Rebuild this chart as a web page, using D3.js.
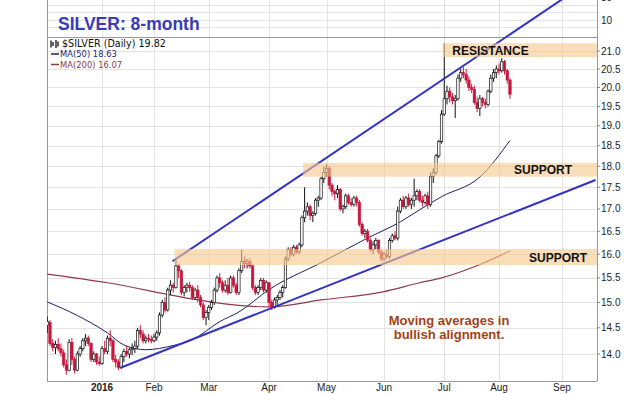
<!DOCTYPE html>
<html>
<head>
<meta charset="utf-8">
<script src="https://cdn.jsdelivr.net/npm/d3@7"></script>
<style>
  body { margin: 0; background: #fff; }
  svg { display: block; }
</style>
</head>
<body>
<div id="chart"></div>
<script>
// ---- data ----
const calStart = '2015-12-01';
const calEnd = '2016-09-30';
const holidays = ['2015-12-25', '2016-01-01', '2016-01-18', '2016-02-15', '2016-03-25', '2016-05-30', '2016-07-04', '2016-09-05'];

// daily candles, one row per trading day starting at firstBar: [open, high, low, close]
const firstBar = '2015-12-03';
const ohlc = [
  // Dec 2015
  [14.55,14.72,14.40,14.62],[14.60,14.65,14.15,14.20],[14.20,14.28,14.05,14.12],[14.12,14.25,14.00,14.18],
  [14.18,14.30,14.05,14.10],[14.10,14.20,13.95,14.02],[14.02,14.08,13.75,13.80],[13.80,13.90,13.62,13.70],
  [13.70,14.28,13.68,14.22],[14.22,14.30,13.80,13.90],[13.90,13.95,13.64,13.70],[13.70,14.05,13.68,14.00],
  [14.00,14.15,13.95,14.10],[14.10,14.30,14.05,14.25],[14.25,14.38,14.15,14.30],[14.30,14.35,14.15,14.20],
  [14.20,14.22,13.85,13.90],[13.90,14.05,13.85,14.00],[14.00,14.02,13.80,13.85],[13.85,13.95,13.78,13.82],
  // Jan 2016
  [13.82,14.15,13.80,14.10],[14.10,14.25,14.00,14.05],[14.05,14.35,14.00,14.30],[14.30,14.45,14.15,14.25],
  [14.25,14.28,13.85,13.90],[13.90,13.98,13.75,13.85],[13.85,13.90,13.70,13.75],[13.75,14.00,13.72,13.95],
  [13.95,14.10,13.85,14.05],[14.05,14.15,13.95,14.00],[14.00,14.12,13.92,14.08],[14.08,14.20,13.98,14.10],
  [14.10,14.25,14.02,14.15],[14.15,14.50,14.10,14.45],[14.45,14.55,14.30,14.38],[14.38,14.45,14.20,14.25],
  [14.25,14.35,14.20,14.30],[14.30,14.38,14.22,14.28],[14.28,14.35,14.20,14.25],
  // Feb
  [14.25,14.38,14.22,14.32],[14.32,14.45,14.25,14.40],[14.40,14.80,14.35,14.75],[14.75,15.05,14.70,15.00],
  [15.00,15.10,14.80,14.85],[14.85,15.30,14.82,15.25],[15.25,15.45,15.15,15.35],[15.35,15.40,15.20,15.30],
  [15.30,15.92,15.28,15.75],[15.75,15.80,15.50,15.65],[15.65,15.68,15.15,15.20],[15.20,15.35,15.12,15.30],
  [15.30,15.40,15.20,15.35],[15.35,15.42,15.22,15.30],[15.30,15.35,15.05,15.10],[15.10,15.30,15.05,15.25],
  [15.25,15.35,15.00,15.10],[15.10,15.15,14.90,14.95],[14.95,15.00,14.65,14.70],[14.70,14.85,14.55,14.80],
  // Mar
  [14.80,14.95,14.65,14.90],[14.90,15.05,14.85,15.00],[15.00,15.30,14.95,15.25],[15.25,15.55,15.20,15.50],
  [15.50,15.60,15.30,15.40],[15.40,15.45,15.20,15.25],[15.25,15.45,15.20,15.35],[15.35,15.50,15.15,15.20],
  [15.20,15.55,15.18,15.50],[15.50,15.55,15.30,15.35],[15.35,15.40,15.15,15.20],[15.20,15.70,15.15,15.65],
  [15.65,16.10,15.60,15.85],[15.85,15.95,15.70,15.80],[15.80,15.90,15.70,15.85],[15.85,15.92,15.70,15.75],
  [15.75,15.78,15.25,15.30],[15.30,15.35,15.15,15.20],[15.20,15.35,15.15,15.30],[15.30,15.50,15.25,15.45],
  [15.45,15.50,15.20,15.25],[15.25,15.45,15.20,15.40],
  // Apr
  [15.40,15.42,14.92,15.00],[15.00,15.05,14.85,14.90],[14.90,15.10,14.88,15.05],[15.05,15.15,14.95,15.10],
  [15.10,15.25,15.05,15.20],[15.20,15.35,15.10,15.30],[15.30,15.95,15.28,15.90],[15.90,16.15,15.85,16.10],
  [16.10,16.15,15.95,16.00],[16.00,16.20,15.95,16.15],[16.15,16.20,16.00,16.05],[16.05,16.25,16.00,16.20],
  [16.20,16.85,16.15,16.80],[16.80,17.50,16.70,16.95],[16.95,17.15,16.85,17.05],[17.05,17.10,16.75,16.85],
  [16.85,16.95,16.70,16.90],[16.90,17.25,16.85,17.20],[17.20,17.30,17.05,17.25],[17.25,17.75,17.20,17.70],
  [17.70,18.00,17.60,17.85],
  // May
  [17.85,18.05,17.75,17.95],[17.95,18.00,17.45,17.55],[17.55,17.60,17.30,17.40],[17.40,17.45,17.20,17.35],
  [17.35,17.55,17.25,17.45],[17.45,17.48,16.95,17.00],[17.00,17.10,16.90,17.05],[17.05,17.35,17.00,17.30],
  [17.30,17.35,17.10,17.15],[17.15,17.25,17.05,17.10],[17.10,17.30,17.05,17.25],[17.25,17.30,17.05,17.15],
  [17.15,17.20,16.60,16.65],[16.65,16.70,16.40,16.45],[16.45,16.55,16.35,16.50],[16.50,16.55,16.25,16.30],
  [16.30,16.35,16.05,16.10],[16.10,16.28,16.00,16.20],[16.20,16.35,16.10,16.30],[16.30,16.32,16.00,16.05],
  [16.05,16.10,15.85,15.90],
  // Jun
  [15.90,16.05,15.85,16.00],[16.00,16.10,15.90,15.95],[15.95,16.35,15.90,16.30],[16.30,16.45,16.25,16.40],
  [16.40,16.50,16.30,16.35],[16.35,17.05,16.30,16.95],[16.95,17.25,16.90,17.20],[17.20,17.30,17.00,17.05],
  [17.05,17.30,17.00,17.25],[17.25,17.35,17.05,17.10],[17.10,17.25,17.00,17.20],[17.20,17.70,17.05,17.30],
  [17.30,17.45,17.20,17.40],[17.40,17.45,17.15,17.20],[17.20,17.30,17.05,17.15],[17.15,17.35,17.10,17.30],
  [17.30,17.40,17.00,17.10],[17.10,17.85,17.05,17.75],[17.75,17.95,17.60,17.85],[17.85,18.30,17.80,18.25],
  [18.25,18.65,18.20,18.60],[18.60,19.40,18.55,19.30],
  // Jul
  [19.30,21.22,19.25,19.70],[19.70,20.05,19.55,19.90],[19.90,20.00,19.60,19.75],[19.75,19.85,19.55,19.65],
  [19.65,19.80,19.20,19.70],[19.70,20.35,19.65,20.25],[20.25,20.50,20.15,20.40],[20.40,20.55,20.25,20.35],
  [20.35,20.50,20.10,20.20],[20.20,20.30,19.90,20.00],[20.00,20.10,19.85,19.95],[19.95,20.05,19.55,19.60],
  [19.60,19.75,19.35,19.45],[19.45,19.80,19.25,19.70],[19.70,19.75,19.50,19.60],[19.60,19.70,19.45,19.55],
  [19.55,19.95,19.50,19.90],[19.90,20.35,19.85,20.25],[20.25,20.50,20.15,20.40],[20.40,20.60,20.25,20.50],
  // Aug
  [20.50,20.65,20.35,20.45],[20.45,20.80,20.40,20.70],[20.70,20.75,20.35,20.45],[20.45,20.50,20.10,20.20],
  [20.20,20.25,19.70,19.82]
];

// moving averages
const ma50Dates = ['2015-12-03','2015-12-18','2016-01-06','2016-01-14','2016-01-27','2016-02-10','2016-02-22','2016-03-07','2016-03-16','2016-04-01','2016-04-28','2016-05-23','2016-06-09','2016-06-20','2016-06-30','2016-07-21','2016-08-05'];
const ma50 = [15.01, 14.74, 14.40, 14.17, 14.08, 14.16, 14.27, 14.62, 14.81, 15.26, 15.82, 16.35, 16.71, 16.98, 17.28, 17.74, 18.63];
const ma200Dates = ['2015-12-03','2016-01-06','2016-02-22','2016-03-16','2016-04-01','2016-04-28','2016-06-01','2016-06-20','2016-06-30','2016-07-21','2016-08-05'];
const ma200 = [15.58, 15.40, 15.07, 14.94, 14.91, 15.05, 15.22, 15.40, 15.50, 15.78, 16.07];

// hand drawn trend lines: two anchors each, extended to an end date
const upperTrendDates = ['2016-02-10', '2016-07-29', '2016-09-01'];
const upperTrendPrices = [15.86, 21.21];
const lowerTrendDates = ['2016-01-13', '2016-04-04', '2016-09-20'];
const lowerTrendPrices = [13.75, 14.89];

// shaded zones
const zoneNames = ['RESISTANCE', 'SUPPORT', 'SUPPORT'];
const zoneStart = ['2016-07-01', '2016-04-20', '2016-02-11'];
const zoneLow = [20.83, 17.75, 15.77];
const zoneHigh = [21.22, 18.08, 16.11];

const priceTicks = [14.0, 14.5, 15.0, 15.5, 16.0, 16.5, 17.0, 17.5, 18.0, 18.5, 19.0, 19.5, 20.0, 20.5, 21.0];
const upperPanelTicks = [7, 10, 15, 20, 30];
const upperPanelLabels = [10, 30];
const monthLabels = ['2016', 'Feb', 'Mar', 'Apr', 'May', 'Jun', 'Jul', 'Aug', 'Sep'];

// ---- layout ----
const W = 630, H = 394;
const plot = { left: 47, right: 597, top: 37, bottom: 381 };
const candleRed = '#c8173e';

const parse = d3.utcParse('%Y-%m-%d');
const fmt = d3.utcFormat('%Y-%m-%d');
const days = d3.utcDays(parse(calStart), parse(calEnd))
  .filter(d => d.getUTCDay() % 6 !== 0 && !holidays.includes(fmt(d)))
  .map(fmt);
const dayIndex = new Map(days.map((d, i) => [d, i]));
const idx = s => dayIndex.get(s);

const x = d3.scaleLinear()
  .domain([idx('2016-01-04'), idx('2016-09-01')])
  .range([102, 562]);
const y = d3.scaleLog().domain([14, 21]).range([354, 51]);
const yTop = d3.scaleLog().domain([10, 30]).range([20, -3]);

const svg = d3.select('#chart').append('svg')
  .attr('width', W).attr('height', H)
  .style('font-family', '"Liberation Sans", Arial, sans-serif');

svg.append('defs').append('clipPath').attr('id', 'mainClip')
  .append('rect')
  .attr('x', plot.left).attr('y', plot.top)
  .attr('width', plot.right - plot.left).attr('height', plot.bottom - plot.top);

// month starts (first trading day of each month from Jan)
const monthStarts = days.filter((d, i) => i > 0 && d.slice(0, 7) !== days[i - 1].slice(0, 7) && d >= '2016-01');
const months = monthStarts.slice(0, monthLabels.length).map((d, i) => ({ i: idx(d), label: monthLabels[i] }));

// grid
const grid = svg.append('g').attr('stroke', '#e3e3e3').attr('stroke-width', 1);
grid.selectAll('.v').data(months).join('line')
  .attr('x1', d => Math.round(x(d.i)) + 0.5).attr('x2', d => Math.round(x(d.i)) + 0.5)
  .attr('y1', 0).attr('y2', plot.bottom);
grid.selectAll('.h').data(priceTicks).join('line')
  .attr('x1', plot.left).attr('x2', plot.right)
  .attr('y1', d => Math.round(y(d)) + 0.5).attr('y2', d => Math.round(y(d)) + 0.5);
grid.selectAll('.t').data(upperPanelTicks).join('line')
  .attr('x1', plot.left).attr('x2', plot.right)
  .attr('y1', d => Math.round(yTop(d)) + 0.5).attr('y2', d => Math.round(yTop(d)) + 0.5);

// frame
const frame = svg.append('g').attr('stroke', '#9a9a9a').attr('fill', 'none');
frame.append('line').attr('x1', plot.left).attr('x2', plot.right).attr('y1', plot.top + 0.5).attr('y2', plot.top + 0.5);
frame.append('line').attr('x1', plot.left).attr('x2', plot.right).attr('y1', plot.bottom + 0.5).attr('y2', plot.bottom + 0.5);
frame.append('line').attr('x1', plot.left + 0.5).attr('x2', plot.left + 0.5).attr('y1', 0).attr('y2', plot.bottom);
frame.append('line').attr('x1', plot.right + 0.5).attr('x2', plot.right + 0.5).attr('y1', 0).attr('y2', plot.bottom);

// right axis ticks and labels
const axis = svg.append('g').attr('font-size', 10).attr('fill', '#222');
axis.selectAll('line').data(priceTicks).join('line')
  .attr('x1', plot.right).attr('x2', plot.right + 3)
  .attr('y1', d => y(d)).attr('y2', d => y(d))
  .attr('stroke', '#888');
axis.selectAll('text.p').data(priceTicks).join('text')
  .attr('x', plot.right + 4).attr('y', d => y(d) + 3.5)
  .text(d => d.toFixed(1));
axis.selectAll('text.t').data(upperPanelLabels).join('text')
  .attr('x', plot.right + 4).attr('y', d => yTop(d) + 3.5)
  .text(d => d);

// bottom axis labels
svg.append('g').attr('font-size', 10).attr('fill', '#222').attr('text-anchor', 'middle')
  .selectAll('text').data(months).join('text')
  .attr('x', d => x(d.i)).attr('y', 391)
  .attr('font-weight', d => d.label === '2016' ? 'bold' : 'normal')
  .text(d => d.label);

const main = svg.append('g').attr('clip-path', 'url(#mainClip)');

// moving averages
const maLine = d3.line().x(d => x(idx(d[0]))).y(d => y(d[1])).curve(d3.curveMonotoneX);
main.append('path').datum(d3.zip(ma200Dates, ma200))
  .attr('d', maLine).attr('fill', 'none').attr('stroke', '#8e3a50').attr('stroke-width', 1.2);
main.append('path').datum(d3.zip(ma50Dates, ma50))
  .attr('d', maLine).attr('fill', 'none').attr('stroke', '#1f1f66').attr('stroke-width', 1);

// candles
const i0 = idx(firstBar);
const bars = ohlc.map((r, k) => ({
  i: i0 + k, o: r[0], h: r[1], l: r[2], c: r[3],
  prev: k > 0 ? ohlc[k - 1][3] : r[0]
}));
const bar = main.append('g').selectAll('g').data(bars).join('g');
bar.each(function (d) {
  const g = d3.select(this);
  const col = d.c >= d.prev ? '#111' : candleRed;
  const cx = x(d.i);
  g.append('line')
    .attr('x1', cx).attr('x2', cx)
    .attr('y1', y(d.h)).attr('y2', y(d.l))
    .attr('stroke', col).attr('stroke-width', 1);
  const top = y(Math.max(d.o, d.c)), bot = y(Math.min(d.o, d.c));
  g.append('rect')
    .attr('x', cx - 1.2).attr('width', 2.4)
    .attr('y', top).attr('height', Math.max(1, bot - top))
    .attr('fill', d.c > d.o ? '#fff' : col)
    .attr('stroke', col).attr('stroke-width', 0.7);
});

// trend lines, extended in log space
function trendPoints(dates, prices) {
  const ia = idx(dates[0]), ib = idx(dates[1]), ie = idx(dates[2]);
  const la = Math.log(prices[0]), lb = Math.log(prices[1]);
  const at = i => Math.exp(la + (lb - la) * (i - ia) / (ib - ia));
  return [[ia, prices[0]], [ie, at(ie)]];
}
const trend = svg.append('g').attr('stroke', '#3434c4').attr('stroke-width', 2).attr('stroke-linecap', 'round');
[trendPoints(upperTrendDates, upperTrendPrices), trendPoints(lowerTrendDates, lowerTrendPrices)].forEach(p => {
  trend.append('line')
    .attr('x1', x(p[0][0])).attr('y1', y(p[0][1]))
    .attr('x2', x(p[1][0])).attr('y2', y(p[1][1]));
});

// shaded zones
const zones = zoneNames.map((n, k) => ({ name: n, start: idx(zoneStart[k]), lo: zoneLow[k], hi: zoneHigh[k] }));
svg.append('g').selectAll('rect').data(zones).join('rect')
  .attr('x', d => x(d.start) - 1.5).attr('width', d => plot.right - x(d.start) + 1.5)
  .attr('y', d => y(d.hi)).attr('height', d => y(d.lo) - y(d.hi))
  .attr('fill', '#f7c88e').attr('opacity', 0.62);

const zoneText = svg.append('g').attr('font-size', 12).attr('font-weight', 'bold').attr('fill', '#111');
zoneText.append('text').attr('x', x(zones[0].start) + 8).attr('y', (y(zones[0].hi) + y(zones[0].lo)) / 2 + 4.5).text(zones[0].name);
zoneText.append('text').attr('x', 572).attr('text-anchor', 'end').attr('y', (y(zones[1].hi) + y(zones[1].lo)) / 2 + 4.5).text(zones[1].name);
zoneText.append('text').attr('x', 587).attr('text-anchor', 'end').attr('y', (y(zones[2].hi) + y(zones[2].lo)) / 2 + 4.5).text(zones[2].name);

// comment
const note = svg.append('g').attr('font-size', 13).attr('font-weight', 'bold').attr('fill', '#a5420f').attr('text-anchor', 'middle');
note.append('text').attr('x', 449).attr('y', 325).text('Moving averages in');
note.append('text').attr('x', 449).attr('y', 339).text('bullish alignment.');

// title
svg.append('text').attr('x', 58).attr('y', 30)
  .attr('font-size', 17.5).attr('font-weight', 'bold').attr('fill', '#3b3bb3')
  .text('SILVER: 8-month');

// legend
const leg = svg.append('g').style('font-family', '"DejaVu Sans", Verdana, sans-serif');
leg.append('path').attr('d', 'M51,40.5v7 M53,42v4 M56,40v8 M58,41.5v5').attr('stroke', '#111').attr('stroke-width', 1.3);
leg.append('text').attr('x', 62).attr('y', 47).attr('font-size', 9.6).attr('fill', '#111').text('$SILVER (Daily) ' + ohlc[ohlc.length - 1][3].toFixed(2));
leg.append('line').attr('x1', 51).attr('x2', 59).attr('y1', 54).attr('y2', 54).attr('stroke', '#1f1f66').attr('stroke-width', 1.5);
leg.append('text').attr('x', 60).attr('y', 57).attr('font-size', 8.4).attr('fill', '#1f1f66').text('MA(50) ' + ma50[ma50.length - 1].toFixed(2));
leg.append('line').attr('x1', 51).attr('x2', 59).attr('y1', 64.5).attr('y2', 64.5).attr('stroke', '#8e3a50').attr('stroke-width', 1.5);
leg.append('text').attr('x', 60).attr('y', 68).attr('font-size', 8.4).attr('fill', '#8e3a50').text('MA(200) ' + ma200[ma200.length - 1].toFixed(2));
</script>
</body>
</html>
